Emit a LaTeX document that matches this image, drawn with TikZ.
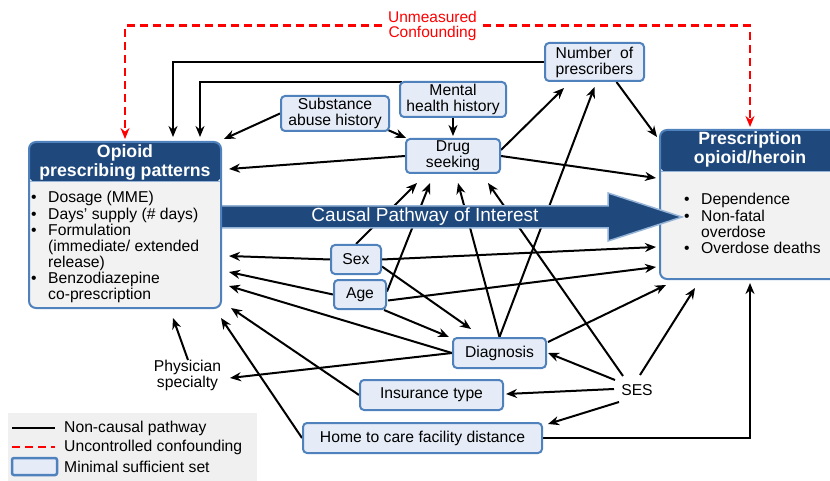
\documentclass[tikz,border=0pt]{standalone}
\usepackage{fontspec}
\setmainfont{Liberation Sans}
\usetikzlibrary{calc,arrows.meta,backgrounds}
\definecolor{navy}{RGB}{31,73,125}
\definecolor{bordblue}{RGB}{79,129,189}
\definecolor{nodefill}{RGB}{229,236,247}
\definecolor{bodygray}{RGB}{242,242,242}
\definecolor{lightrim}{RGB}{149,179,215}
\definecolor{leggray}{RGB}{240,240,240}
\definecolor{dashred}{RGB}{255,0,0}
\newcommand\nodefont{\fontsize{15.7}{16}\selectfont}
\newcommand\hdrfont{\fontsize{17.7}{19}\selectfont\bfseries}
\tikzset{
  nb/.style={draw=bordblue, line width=2pt, fill=nodefill, rounded corners=4pt,
    align=center, inner sep=0pt, font=\nodefont},
  txt/.style={align=center, inner sep=0pt, font=\nodefont},
  hdr/.style={align=center, inner sep=0pt, font=\hdrfont, text=white},
  arr/.style={line width=2pt, -{Stealth[length=11pt,width=9pt]}},
  rarr/.style={line width=2.2pt, draw=dashred, dash pattern=on 8pt off 5pt,
    -{Stealth[length=11pt,width=9pt,fill=dashred]}},
  bigbox/.style={draw=bordblue, line width=2pt, fill=bodygray, rounded corners=7pt, inner sep=0pt},
}
\begin{document}
\begin{tikzpicture}[x=1pt,y=-1pt]
\useasboundingbox (0,0) rectangle (830,481);

% Prescription box
\node[bigbox, minimum width=180pt, minimum height=149pt,
  path picture={\fill[navy] (path picture bounding box.north west) rectangle ([yshift=-42pt]path picture bounding box.north east);
  \draw[lightrim, line width=1pt] ([yshift=-42pt]path picture bounding box.north west) -- ([yshift=-42pt]path picture bounding box.north east);}]
  (pr) at (750,204.5) {};
\node[hdr] (prh) at (750,149) {Prescription\\opioid/heroin};
\node[anchor=north west, inner sep=0pt, font=\nodefont] (prb) at (684,193.3) {%
  \begin{tabular}{@{}p{17pt}@{}l@{}}
  \textbullet & Dependence\\
  \textbullet & Non-fatal\\
  & overdose\\
  \textbullet & Overdose deaths
  \end{tabular}};

% Causal pathway arrow
\filldraw[fill=navy, draw=lightrim, line width=1.5pt]
  (215,206) -- (608,206) -- (608,193) -- (682,217) -- (608,241) -- (608,228) -- (215,228) -- cycle;
\node[txt, text=white, font=\fontsize{19}{20}\selectfont] (cp) at (425,217) {Causal Pathway of Interest};

% Opioid box
\node[bigbox, minimum width=192pt, minimum height=166pt,
  path picture={\fill[navy] (path picture bounding box.north west) rectangle ([yshift=-40pt]path picture bounding box.north east);
  \draw[lightrim, line width=1pt] ([yshift=-40pt]path picture bounding box.north west) -- ([yshift=-40pt]path picture bounding box.north east);}]
  (op) at (125,225) {};
\node[hdr] (oph) at (125,162.5) {Opioid\\prescribing patterns};
\node[anchor=north west, inner sep=0pt, font=\nodefont] (opb) at (31,191.3) {%
  \begin{tabular}{@{}p{17pt}@{}l@{}}
  \textbullet & Dosage (MME)\\
  \textbullet & Days’ supply (\# days)\\
  \textbullet & Formulation\\
  & (immediate/ extended\\
  & release)\\
  \textbullet & Benzodiazepine\\
  & co-prescription
  \end{tabular}};

% small nodes
\node[nb, minimum width=99pt, minimum height=38pt] (nop) at (594.5,62) {Number\ \ of\\prescribers};
\node[nb, minimum width=106pt, minimum height=35pt] (mh) at (453,99.5) {Mental\\health history};
\node[nb, minimum width=108pt, minimum height=35pt] (sa) at (335,113.5) {Substance\\abuse history};
\node[nb, minimum width=94pt, minimum height=34pt] (ds) at (453,156) {Drug\\seeking};
\node[nb, minimum width=50pt, minimum height=29pt] (sex) at (356,259.5) {Sex};
\node[nb, minimum width=52pt, minimum height=29pt] (age) at (360,294.5) {Age};
\node[nb, minimum width=93pt, minimum height=30pt] (dx) at (499.5,353) {Diagnosis};
\node[nb, minimum width=143pt, minimum height=30pt] (ins) at (431.5,395) {Insurance type};
\node[nb, minimum width=239pt, minimum height=30pt] (home) at (422.5,438) {Home to care facility distance};
\node[txt] (ses) at (637,390) {SES};
\node[txt] (phys) at (187.5,375) {Physician\\specialty};
\node[txt, text=dashred, inner sep=6pt, font=\fontsize{15.5}{15}\selectfont] (un) at (432.5,25.5) {Unmeasured\\Confounding};

% legend
\fill[leggray] (8,413) rectangle (257,481);
\draw[line width=2pt] (12,428) -- (55,428);
\draw[line width=2.2pt, draw=dashred, dash pattern=on 8pt off 5pt] (12,447) -- (55,447);
\draw[draw=bordblue, line width=2.5pt, fill=nodefill, rounded corners=2pt] (12,458) rectangle (57,475);
\node[txt, anchor=west] (l1) at (64,428) {Non-causal pathway};
\node[txt, anchor=west] (l2) at (64,447) {Uncontrolled confounding};
\node[txt, anchor=west] (l3) at (64,467) {Minimal sufficient set};

\begin{pgfonlayer}{background}
\draw[arr] (nop.west) -| ($(op.north)+(48,-4)$);
\draw[arr] ($(mh.north west)+(3,1)$) -| ($(op.north)+(75,-4)$);
\draw[arr] (sa.west) -- ($(op.north east)+(2,-2)$);
\draw[arr] ($(sa.south east)+(-2,-2)$) -- ($(ds.north west)+(1,0)$);
\draw[arr] (mh.south) -- ($(ds.north)+(0,-2)$);
\draw[arr] (ds.west) -- ($(op.east)+(7,-56)$);
\draw[arr] ($(ds.east)+(0,-6)$) -- ($(nop.south west)+(20,6)$);
\draw[arr] (ds.east) -- ($(pr.west)+(-3,-26.5)$);
\draw[arr] ($(nop.south)+(22,0)$) -- ($(pr.north west)+(-2,8)$);
\draw[arr] (dx.north) -- ($(nop.south)+(0,5)$);
\draw[arr] (dx.north) -- ($(ds.south)+(5,9)$);
\draw[arr] (sex.north) -- ($(ds.south)+(-36,9)$);
\draw[arr] ($(age.east)+(0,-3)$) -- ($(ds.south)+(-23,9)$);
\draw[arr] ($(ses.center)+(-14,-14)$) -- ($(ds.south)+(35,9)$);
\draw[arr] ($(ses.center)+(3,-15)$) -- ($(pr.south)+(-55,8)$);
\draw[arr] ($(ses.center)+(-22,-10)$) -- ($(dx.east)+(1,0)$);
\draw[arr] ($(ses.center)+(-23,-1)$) -- ($(ins.east)+(2,-1)$);
\draw[arr] ($(ses.center)+(-18,12)$) -- ($(home.north east)+(5,2)$);
\draw[arr] ($(dx.north east)+(1,5)$) -- ($(pr.south west)+(7,5)$);
\draw[arr] (home.east) -| ($(pr.south)+(0,3)$);
\draw[arr] (sex.west) -- ($(op.east)+(7,31)$);
\draw[arr] (sex.east) -- ($(pr.west)+(-3,42.5)$);
\draw[arr] ($(age.east)+(1,6)$) -- ($(pr.west)+(-3,62.5)$);
\draw[arr] (age.west) -- ($(op.east)+(7,47)$);
\draw[arr] (dx.west) -- ($(op.east)+(7,61)$);
\draw[arr] (dx.west) -- ($(phys.center)+(42.5,3)$);
\draw[arr] ($(phys.center)+(0.5,-15)$) -- ($(op.south)+(48,9)$);
\draw[arr] (ins.west) -- ($(op.south east)+(9,-1)$);
\draw[arr] (home.west) -- ($(op.south east)+(-1,9)$);
\draw[arr] ($(sex.east)+(0,7)$) -- ($(dx.north west)+(19,-8)$);
\draw[arr] ($(age.south east)+(-3,0)$) -- ($(dx.west)+(-3,-16)$);
\draw[rarr] (un.west) -| ($(op.north)+(0,-2)$);
\draw[rarr] (un.east) -| ($(pr.north)+(0,-2)$);
\end{pgfonlayer}
\end{tikzpicture}
\end{document}
